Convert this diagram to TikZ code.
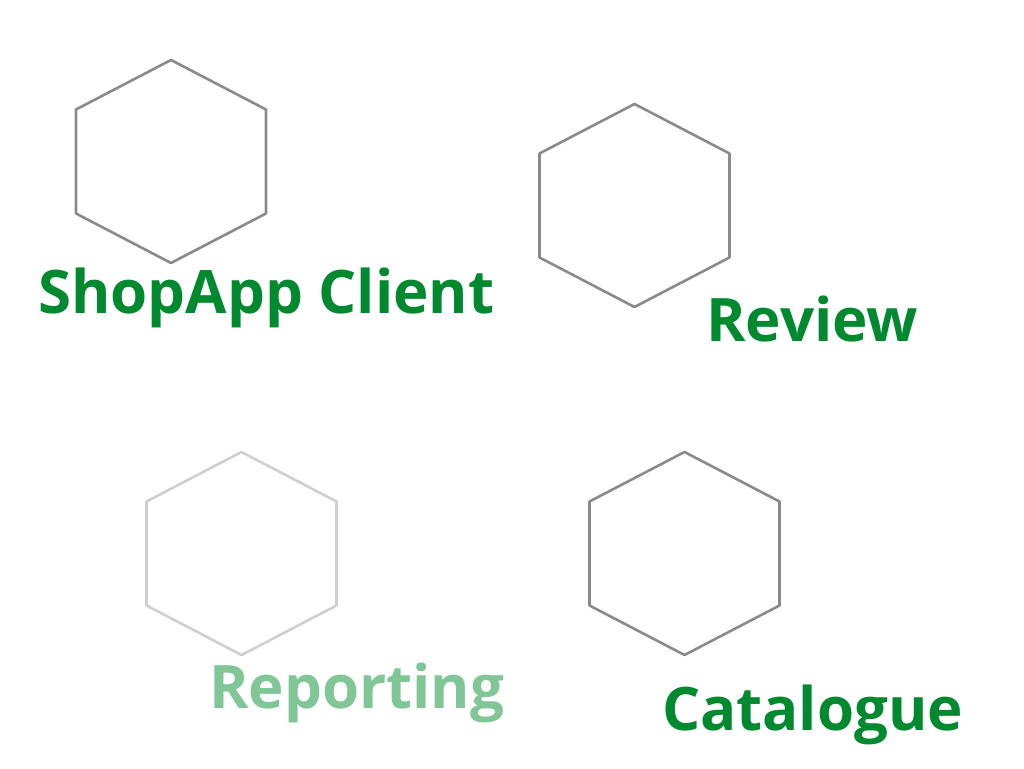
\documentclass[tikz,border=0pt]{standalone}
\usepackage{fontspec}
\setmainfont{Open Sans}
\definecolor{lbl}{HTML}{00892F}
\definecolor{lblfade}{HTML}{80C697}
\definecolor{hexc}{HTML}{8A8A8E}
\definecolor{hexfade}{HTML}{CFCFCF}
\begin{document}
\begin{tikzpicture}[x=1pt,y=1pt,
  hexs/.style={draw=hexc,line width=2.6pt,line join=round},
  lab/.style={anchor=base west,inner sep=0pt,font=\fontsize{60}{60}\selectfont\bfseries,text=lbl}]
\useasboundingbox (0,0) rectangle (1024,768);
\newcommand{\hexa}[3]{%
  \draw[#3] (#1,#2+101.5) -- (#1+95,#2+52) -- (#1+95,#2-52) -- (#1,#2-101.5) -- (#1-95,#2-52) -- (#1-95,#2+52) -- cycle;}
\hexa{171}{606.5}{hexs}
\hexa{634.5}{562.5}{hexs}
\hexa{241.5}{214.5}{hexs,draw=hexfade}
\hexa{684.5}{214.5}{hexs}
\node[lab] (shop) at (38,454) {ShopApp Client};
\node[lab] (rev) at (706,426) {Review};
\node[lab,text=lblfade] (rep) at (209,60) {Reporting};
\node[lab] (cat) at (662,38) {Catalogue};
\end{tikzpicture}
\end{document}
